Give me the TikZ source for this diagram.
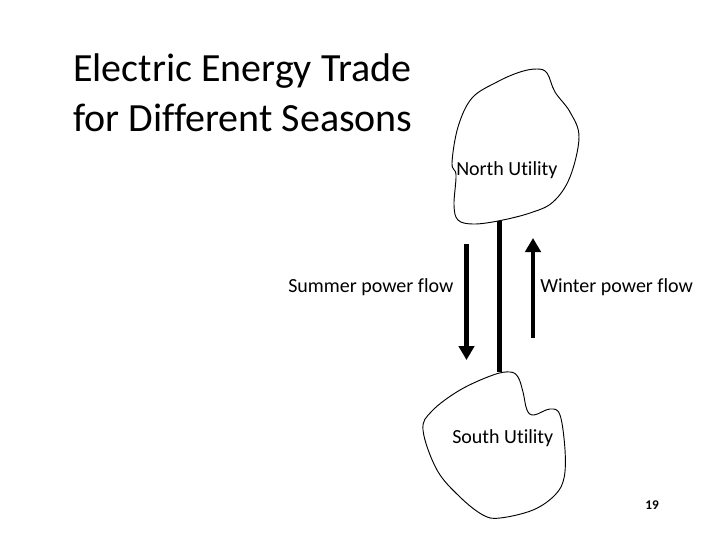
\documentclass[tikz,border=0pt]{standalone}
\usepackage{fontspec}
\setmainfont[Ligatures=NoCommon]{Carlito}
\usetikzlibrary{arrows.meta}
\tikzset{
  blob/.style={draw=black,line width=0.7pt},
  titletext/.style={anchor=west,inner sep=0pt,font=\fontsize{30pt}{36pt}\selectfont},
  label/.style={anchor=west,inner sep=0pt,font=\fontsize{15pt}{18pt}\selectfont},
  flow/.style={draw=black,line width=3.5pt,-{Triangle[length=10.5pt,width=11.5pt]}},
  tie/.style={draw=black,line width=3.2pt}
}
\begin{document}
\begin{tikzpicture}[x=0.75pt,y=-0.75pt]
\useasboundingbox (0,0) rectangle (720,540);
\draw[blob] plot[smooth cycle,tension=0.6] coordinates {(537,69) (547,73) (555,92) (570,112) (579,137) (570,177) (553,202) (530,213) (498,221) (473,224) (458,220) (454,205) (456,175) (452,163) (458,127) (472,98) (497,82) (520,72)};
\draw[blob] plot[smooth cycle,tension=0.6] coordinates {(510,372) (518,377) (523,392) (527,410) (534,415) (550,409) (560,415) (565,450) (564,478) (555,495) (533,510) (500,518) (483,515) (460,497) (437,470) (423,430) (432,411) (460,390) (493,375)};
\coordinate (tieN) at (499.5,221);
\coordinate (tieS) at (499.5,372);
\coordinate (sumA) at (466.5,244);
\coordinate (sumB) at (466.5,360);
\coordinate (winA) at (533,338);
\coordinate (winB) at (533,238);
\draw[tie] (tieN) -- (tieS);
\draw[flow] (sumA) -- (sumB);
\draw[flow] (winA) -- (winB);
\node[titletext] (t1) at (73,71) {Electric Energy Trade};
\node[titletext] (t2) at (73,118) {for Different Seasons};
\node[label] (north) at (456,170.5) {North Utility};
\node[label] (south) at (452,438.5) {South Utility};
\node[label] (summer) at (288,287.5) {Summer power flow};
\node[label] (winter) at (540,287.5) {Winter power flow};
\node[anchor=center,inner sep=0pt,font=\fontsize{10pt}{12pt}\bfseries\selectfont] (page) at (652,505) {19};
\end{tikzpicture}
\end{document}
